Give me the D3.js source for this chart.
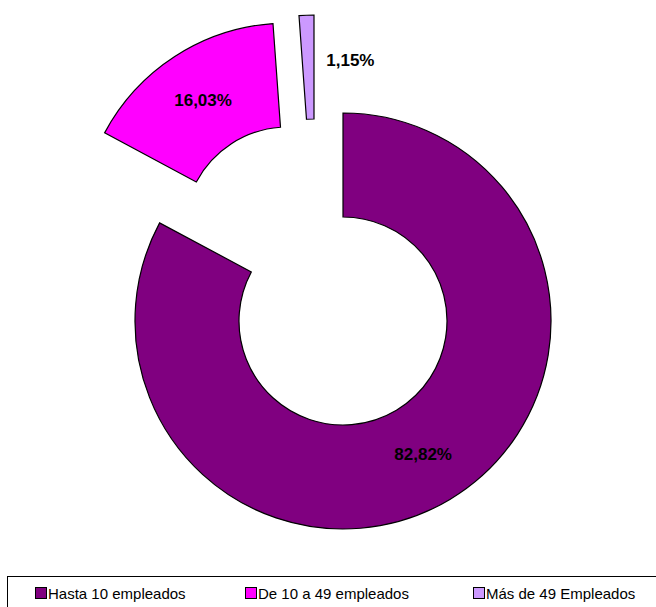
<!DOCTYPE html>
<html><head><meta charset="utf-8">
<script src="https://cdn.jsdelivr.net/npm/d3@7"></script>
<style>html,body{margin:0;padding:0;background:#fff;overflow:hidden}</style>
</head><body>
<svg id="chart" width="656" height="607"></svg>
<script>
// Data
const categories = ["Hasta 10 empleados", "De 10 a 49 empleados", "Más de 49 Empleados"];
const values = [82.82, 16.03, 1.15];
const labels = ["82,82%", "16,03%", "1,15%"];

// Layout / style
const colors = ["#800080", "#FF00FF", "#CC99FF"];
const explode = [[0, 0], [-55, -90], [-29, -98]];
const labelShift = [[0, 0], [0, 0], [42, -7]];
const cx = 343, cy = 321, R = 208, r = 104;

const svg = d3.select("#chart");
const pie = d3.pie().sort(null).value(d => d)(values);
const arc = d3.arc().innerRadius(r).outerRadius(R);

const g = svg.append("g").attr("transform", `translate(${cx},${cy})`);
const slices = g.selectAll("g.slice").data(pie).enter().append("g")
  .attr("transform", (d, i) => `translate(${explode[i][0]},${explode[i][1]})`);
slices.append("path").attr("d", arc)
  .attr("fill", (d, i) => colors[i])
  .attr("stroke", "#000").attr("stroke-width", 1.2).attr("stroke-linejoin", "miter");
slices.append("text")
  .attr("x", (d, i) => arc.centroid(d)[0] + labelShift[i][0])
  .attr("y", (d, i) => arc.centroid(d)[1] + labelShift[i][1])
  .attr("text-anchor", "middle").attr("dominant-baseline", "central")
  .attr("font-family", "Liberation Sans, Arial, sans-serif")
  .attr("font-weight", "bold").attr("font-size", 17).attr("fill", "#000")
  .text((d, i) => labels[i]);

// Legend
const lg = svg.append("g");
lg.append("rect").attr("x", 7.5).attr("y", 576.5).attr("width", 660).attr("height", 60)
  .attr("fill", "#fff").attr("stroke", "#000").attr("stroke-width", 1);
const legX = [35, 245, 473];
categories.forEach((c, i) => {
  lg.append("rect").attr("x", legX[i] + 0.5).attr("y", 587.5).attr("width", 11).attr("height", 11)
    .attr("fill", colors[i]).attr("stroke", "#000").attr("stroke-width", 1);
  lg.append("text").attr("x", legX[i] + 13).attr("y", 599)
    .attr("font-family", "Liberation Sans, Arial, sans-serif").attr("font-size", 15)
    .attr("fill", "#000").text(c);
});
</script>
</body></html>
